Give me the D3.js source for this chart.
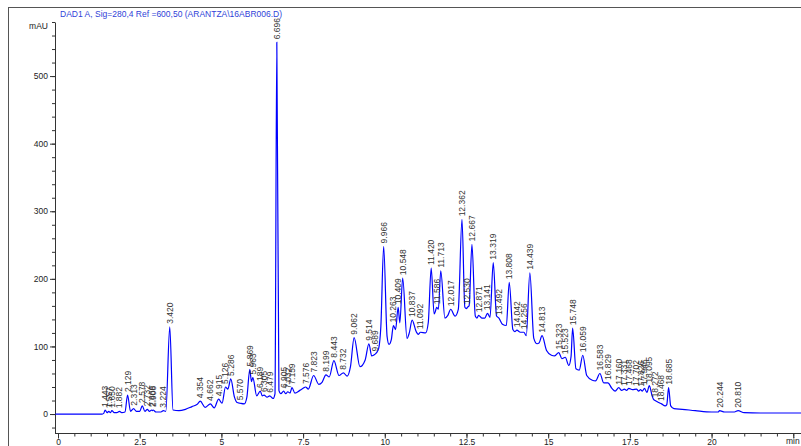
<!DOCTYPE html>
<html>
<head>
<meta charset="utf-8">
<script src="https://cdn.jsdelivr.net/npm/d3@7"></script>
<style>
  body { margin: 0; background: #fff; }
  svg { display: block; font-family: "Liberation Sans", Arial, sans-serif; }
  .axis text { font-size: 8.5px; fill: #222; }
  .axis path, .axis line { stroke: #333; }
</style>
</head>
<body>
<div id="chart"></div>
<script>
// Chromatogram, DAD1 A 280 nm

const title = "DAD1 A, Sig=280,4 Ref =600,50 (ARANTZA\\16ABR006.D)";

// peak apex: retention time label (min) and height (mAU)
const peakTimes = ["1.443", "1.557", "1.650", "1.882", "2.129", "2.313", "2.578", "2.732", "2.866", "2.908",
  "3.224", "3.420", "4.354", "4.662", "4.915", "5.126", "5.286", "5.570", "5.869", "5.963",
  "6.189", "6.305", "6.479", "6.696", "6.905", "7.032", "7.159", "7.576", "7.823", "8.199",
  "8.443", "8.732", "9.062", "9.514", "9.689", "9.966", "10.263", "10.409", "10.548", "10.837",
  "11.092", "11.420", "11.586", "11.713", "12.017", "12.362", "12.530", "12.667", "12.871", "13.141",
  "13.319", "13.492", "13.808", "14.042", "14.256", "14.439", "14.813", "15.323", "15.523", "15.748",
  "16.059", "16.583", "16.829", "17.160", "17.331", "17.468", "17.702", "17.826", "17.946", "18.095",
  "18.272", "18.468", "18.685", "20.244", "20.810"];
const peakHeights = [6, 4, 5, 4, 28, 8, 12, 7, 6, 6,
  5, 129, 19, 15, 22, 40, 52, 16, 66, 54,
  34, 28, 27, 550, 34, 33, 39, 40, 57, 58,
  79, 61, 113, 104, 88, 248, 131, 158, 201, 139,
  121, 216, 158, 212, 155, 288, 158, 251, 146, 149,
  224, 142, 195, 124, 121, 209, 116, 91, 84, 127,
  87, 60, 46, 39, 37, 38, 37, 36, 38, 42,
  20, 15, 39, 5, 5];

// trace points between the peaks: [min, mAU]
const valleys = [[-0.08, 0], [1.35, 0], [1.40, 1], [1.50, 2], [1.60, 2], [1.72, 2], [1.80, 2], [1.95, 2], [2.05, 3],
  [2.22, 4], [2.40, 4], [2.50, 4], [2.66, 4], [2.80, 4], [2.89, 5], [3.00, 3], [3.15, 3], [3.30, 4],
  [3.52, 6], [3.70, 5], [3.90, 7], [4.10, 11], [4.25, 14], [4.50, 10], [4.78, 9], [5.02, 16], [5.20, 37],
  [5.40, 25], [5.48, 17], [5.70, 15], [5.78, 25], [5.92, 48], [6.08, 27], [6.25, 27], [6.40, 25],
  [6.58, 23], [6.64, 30], [6.76, 35], [6.82, 30], [6.97, 30], [7.10, 31], [7.25, 31], [7.40, 35],
  [7.50, 38], [7.66, 37], [7.98, 44], [8.08, 47], [8.30, 55], [8.60, 57], [8.85, 56], [8.95, 70],
  [9.24, 70], [9.40, 80], [9.60, 86], [9.80, 95], [9.88, 130], [10.07, 115], [10.13, 103], [10.20, 110],
  [10.33, 125], [10.46, 135], [10.68, 112], [10.75, 120], [10.96, 122], [11.02, 118], [11.25, 120],
  [11.33, 135], [11.51, 148], [11.55, 152], [11.64, 155], [11.84, 142], [11.93, 146], [12.15, 145],
  [12.25, 155], [12.45, 158], [12.50, 156], [12.58, 160], [12.77, 145], [12.82, 142], [12.97, 142],
  [13.06, 142], [13.22, 143], [13.42, 145], [13.60, 133], [13.72, 131], [13.92, 125], [13.98, 122],
  [14.15, 121], [14.33, 116], [14.56, 112], [14.66, 104], [14.72, 105], [14.95, 94], [15.10, 87],
  [15.20, 86], [15.42, 82], [15.63, 72], [15.70, 85], [15.85, 67], [15.95, 65], [16.18, 57],
  [16.35, 50], [16.45, 49], [16.70, 46], [16.95, 38], [17.05, 34], [17.25, 35], [17.40, 35],
  [17.58, 36], [17.77, 34], [17.88, 34], [18.02, 32], [18.18, 27], [18.22, 22], [18.38, 17],
  [18.58, 12], [18.63, 14], [18.75, 12], [18.85, 8], [19.10, 7], [19.50, 5], [20.00, 3], [20.20, 3],
  [20.40, 3], [20.70, 3], [21.00, 2], [21.50, 1.5], [22.00, 1.5], [22.74, 1.5]];

const majorX = [0, 2.5, 5, 7.5, 10, 12.5, 15, 17.5, 20];
const majorY = [0, 100, 200, 300, 400, 500];

const W = 801, H = 446;

const svg = d3.select("#chart").append("svg")
  .attr("width", W)
  .attr("height", H);

const x = d3.scaleLinear().domain([0, 22.7]).range([58, 799.8]);
const y = d3.scaleLinear().domain([-28.5, 580]).range([433.3, 22]);

// page frame
svg.append("line").attr("x1", 8.5).attr("x2", 8.5).attr("y1", 7).attr("y2", H).attr("stroke", "#555");
svg.append("line").attr("x1", 8).attr("x2", W).attr("y1", 7.5).attr("y2", 7.5).attr("stroke", "#555");

svg.append("text")
  .attr("x", 60).attr("y", 17)
  .style("font-size", "8.5px")
  .attr("fill", "#2f3fd8")
  .text(title);

// y axis
const yMinor = svg.append("g").attr("class", "axis")
  .attr("transform", "translate(55,0)")
  .call(d3.axisLeft(y).tickValues(d3.range(-20, 581, 20)).tickSize(3).tickSizeOuter(0).tickFormat(""));
const yMajor = svg.append("g").attr("class", "axis")
  .attr("transform", "translate(55,0)")
  .call(d3.axisLeft(y).tickValues(majorY).tickSize(5).tickPadding(2).tickFormat(d3.format("d")));
yMajor.select(".domain").remove();

svg.append("text")
  .attr("x", 48).attr("y", 29)
  .attr("text-anchor", "end")
  .style("font-size", "8.5px")
  .attr("fill", "#222")
  .text("mAU");

// x axis (labels sit at the bottom edge)
svg.append("line").attr("x1", 55).attr("x2", W).attr("y1", 433.5).attr("y2", 433.5).attr("stroke", "#333");
const xMinor = svg.append("g").attr("class", "axis")
  .attr("transform", "translate(0,433.5)")
  .call(d3.axisBottom(x).tickValues(d3.range(0, 22.6, 0.5)).tickSize(3).tickFormat(""));
xMinor.select(".domain").remove();
const xMajor = svg.append("g").attr("class", "axis")
  .attr("transform", "translate(0,433.5)")
  .call(d3.axisBottom(x).tickValues(majorX.concat([22.5])).tickSize(5).tickPadding(0)
    .tickFormat(d => d === 22.5 ? "" : String(d)));
xMajor.select(".domain").remove();

svg.append("text")
  .attr("x", 786).attr("y", 444)
  .style("font-size", "8.5px")
  .attr("fill", "#222")
  .text("min");

// trace = valleys + peak apexes, in time order
const peaks = peakTimes.map((t, i) => ({ label: t, t: +t, v: peakHeights[i] }));
const trace = valleys.map(d => ({ t: d[0], v: d[1] }))
  .concat(peaks.map(p => ({ t: p.t, v: p.v })))
  .sort((a, b) => a.t - b.t);

const line = d3.line()
  .x(d => x(d.t))
  .y(d => y(d.v))
  .curve(d3.curveMonotoneX);

svg.append("path")
  .datum(trace)
  .attr("d", line)
  .attr("fill", "none")
  .attr("stroke", "#0000ff")
  .attr("stroke-width", 1.2);

// peak labels
svg.selectAll(".peakLabel")
  .data(peaks)
  .enter().append("text")
  .attr("class", "peakLabel")
  .attr("transform", d => "translate(" + x(d.t) + "," + (y(d.v) - 3) + ") rotate(-90)")
  .attr("dy", "0.35em")
  .style("font-size", "8.5px")
  .attr("fill", "#333")
  .text(d => d.label);
</script>
</body>
</html>
